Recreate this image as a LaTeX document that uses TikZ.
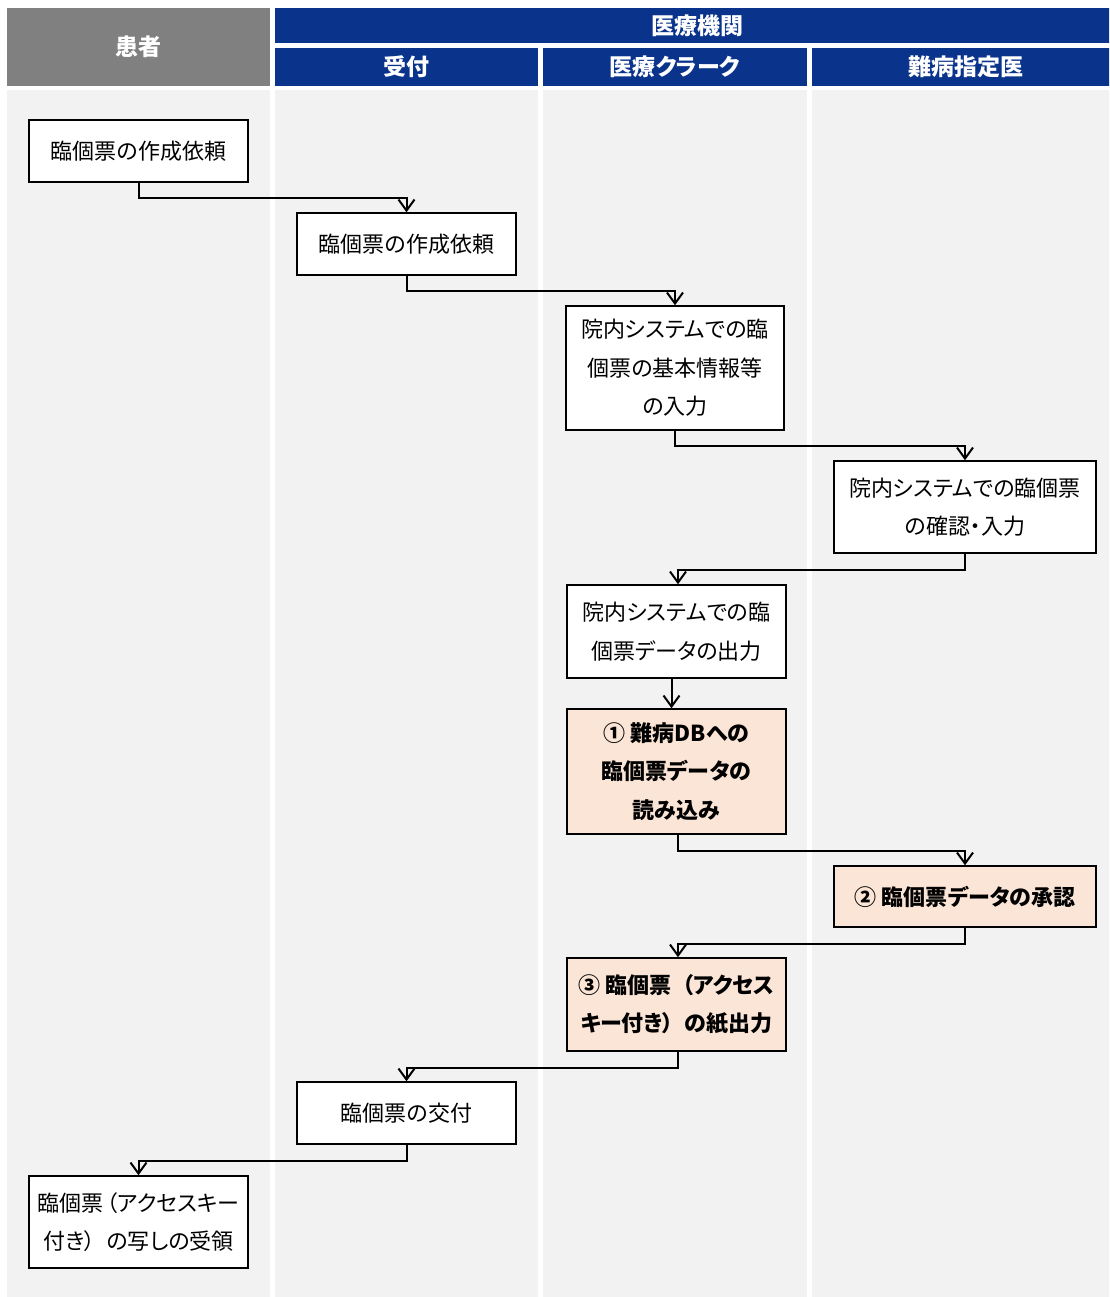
\documentclass[tikz,border=0pt]{standalone}
\usepackage{fontspec}
\setmainfont{Noto Sans CJK JP}[RawFeature=+palt]
\usetikzlibrary{arrows.meta}
\definecolor{hdrblue}{RGB}{10,51,140}
\definecolor{hdrgray}{RGB}{128,128,128}
\definecolor{lanegray}{RGB}{242,242,242}
\definecolor{peach}{RGB}{251,229,214}
\newcommand{\lparfw}[1][0.5em]{\kern#1（}
\newcommand{\rparfw}{）\kern0.5em}
\begin{document}
\begin{tikzpicture}[x=1pt,y=-1pt,
  lane/.style={fill=lanegray,draw=none},
  hdr/.style={fill=hdrblue,draw=none,text=white,font=\fontsize{23}{27}\selectfont\bfseries,inner sep=0pt},
  box/.style={draw=black,line width=1.5pt,fill=white,align=center,font=\fontsize{22}{38.5}\selectfont,inner sep=0pt},
  hl/.style={box,fill=peach,font=\fontsize{22}{38.5}\selectfont\bfseries},
  flow/.style={draw=black,line width=2pt,-{Straight Barb[length=11pt,width=16pt,line width=2pt]}}
]
\useasboundingbox (0,0) rectangle (1109,1297);
\clip (0,0) rectangle (1109,1297);
\fill[white] (0,0) rectangle (1109,1297);
% lanes
\fill[lane] (7,90) rectangle (270,1297);
\fill[lane] (275,90) rectangle (538,1297);
\fill[lane] (543,90) rectangle (807,1297);
\fill[lane] (812,90) rectangle (1120,1297);
% headers
\node[hdr,fill=hdrgray,minimum width=263pt,minimum height=78pt] (hp) at (138.5,47) {患者};
\node[hdr,minimum width=845pt,minimum height=35pt] (hi) at (697.5,25.5) {医療機関};
\node[hdr,minimum width=263pt,minimum height=38pt] (h1) at (406.5,67) {受付};
\node[hdr,minimum width=264pt,minimum height=38pt] (h2) at (675,67) {医療クラーク};
\node[hdr,minimum width=308pt,minimum height=38pt] (h3) at (966,67) {難病指定医};
% boxes
\node[box,minimum width=219pt,minimum height=62pt] (b1) at (138.5,151) {臨個票の作成依頼};
\node[box,minimum width=219pt,minimum height=62pt] (b2) at (406.5,244) {臨個票の作成依頼};
\node[box,minimum width=218pt,minimum height=124pt] (b3) at (675,368) {院内システムでの臨\\個票の基本情報等\\の入力};
\node[box,minimum width=262pt,minimum height=92pt] (b4) at (965,507) {院内システムでの臨個票\\の確認・入力};
\node[box,minimum width=219pt,minimum height=93pt] (b5) at (676.5,631.5) {院内システムでの臨\\個票データの出力};
\node[hl,minimum width=219pt,minimum height=125pt] (b6) at (676.5,771.5) {① 難病DBへの\\臨個票データの\\読み込み};
\node[hl,minimum width=262pt,minimum height=61pt] (b7) at (965,896.5) {② 臨個票データの承認};
\node[hl,minimum width=219pt,minimum height=93pt] (b8) at (676.5,1004.5) {③ 臨個票\lparfw アクセス\\キー付き\rparfw の紙出力};
\node[box,minimum width=219pt,minimum height=62pt] (b9) at (406.5,1113) {臨個票の交付};
\node[box,minimum width=219pt,minimum height=92pt] (b10) at (138.5,1222) {臨個票\lparfw[0.15em]アクセスキー\\付き\rparfw の写しの受領};
% connectors
\draw[flow] (b1.south) -- ++(0,15) -| (b2.north);
\draw[flow] (b2.south) -- ++(0,15) -| (b3.north);
\draw[flow] (b3.south) -- ++(0,15) -| (b4.north);
\draw[flow] (b4.south) -- ++(0,16) -| ([xshift=1.5pt]b5.north);
\draw[flow] ([xshift=-5pt]b5.south) -- ([xshift=-5pt]b6.north);
\draw[flow] ([xshift=1.5pt]b6.south) -- ++(0,16) -| (b7.north);
\draw[flow] (b7.south) -- ++(0,16) -| ([xshift=1.5pt]b8.north);
\draw[flow] ([xshift=1.5pt]b8.south) -- ++(0,16) -| (b9.north);
\draw[flow] (b9.south) -- ++(0,16) -| (b10.north);
\end{tikzpicture}
\end{document}
